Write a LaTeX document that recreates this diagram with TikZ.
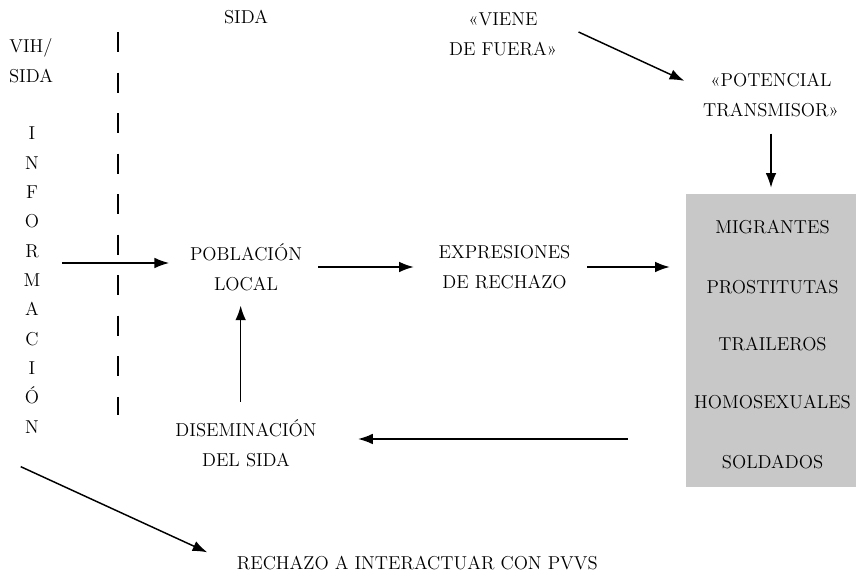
\documentclass[tikz,border=0pt]{standalone}
\usepackage{fontspec}
\usetikzlibrary{arrows.meta}
\definecolor{boxgray}{RGB}{200,200,200}
\begin{document}
\begin{tikzpicture}[>={Latex[length=11bp,width=8bp]},line join=bevel,
  lbl/.style={draw=none,align=center,inner sep=2bp,font=\fontsize{14bp}{22.5bp}\selectfont\addfontfeature{LetterSpace=5}},
  arr/.style={black,line width=1.1bp,->},
  ]
%%
\useasboundingbox (0bp,0bp) rectangle (642bp,432.75bp);
\node (grupos) at (578.25bp,177.4bp) [fill=boxgray,minimum width=127.5bp,minimum height=219.75bp,inner sep=0pt] {};
  \node (sida) at (184.5bp,420bp) [lbl] {SIDA};
  \node (viene) at (377.25bp,407.25bp) [lbl] {«VIENE\\DE FUERA»};
  \node (potencial) at (578.25bp,361.1bp) [lbl] {«POTENCIAL\\TRANSMISOR»};
  \node (vihsida) at (23.25bp,387bp) [lbl] {VIH/\\SIDA};
  \node (informacion) at (24bp,222.75bp) [lbl,font=\fontsize{14bp}{22bp}\selectfont] {I\\N\\F\\O\\R\\M\\A\\C\\I\\Ó\\N};
  \node (poblacion) at (184.5bp,232.5bp) [lbl] {POBLACIÓN\\LOCAL};
  \node (expresiones) at (378.4bp,232.5bp) [lbl] {EXPRESIONES\\DE RECHAZO};
  \node (diseminacion) at (184.5bp,100.5bp) [lbl] {DISEMINACIÓN\\DEL SIDA};
  \node (rechazo) at (313bp,10.5bp) [lbl] {RECHAZO A INTERACTUAR CON PVVS};
  \node (migrantes) at (579.4bp,262.5bp) [lbl] {MIGRANTES};
  \node (prostitutas) at (579.4bp,217.5bp) [lbl] {PROSTITUTAS};
  \node (traileros) at (579.4bp,174.75bp) [lbl] {TRAILEROS};
  \node (homosexuales) at (579.4bp,131.25bp) [lbl] {HOMOSEXUALES};
  \node (soldados) at (579.4bp,86.25bp) [lbl] {SOLDADOS};
  \draw [black,line width=1.5bp,dash pattern=on 15bp off 15.4bp] (88.5bp,408.75bp) -- (88.5bp,121.5bp);
  \draw [arr] ([shift={(14bp,1.5bp)}]viene.east) -- ([shift={(-12bp,11bp)}]potencial.west);
  \draw [arr,shorten <=10bp,shorten >=4.5bp] (potencial.south -| grupos) -- (grupos.north);
  \draw [arr,shorten <=14bp,shorten >=13.5bp] ([yshift=3bp]informacion.east |- poblacion.west) -- ([yshift=3bp]poblacion.west);
  \draw [arr,shorten <=10bp,shorten >=16.5bp] (poblacion) -- (expresiones);
  \draw [arr,shorten <=10.5bp,shorten >=12bp] (expresiones) -- (expresiones -| grupos.west);
  \draw [arr,shorten <=11bp,shorten >=9bp] ([xshift=-4bp]diseminacion.north -| poblacion) -- ([xshift=-4bp]poblacion.south);
  \draw [arr,shorten <=43.5bp,shorten >=29bp] ([yshift=3bp]diseminacion.east -| grupos.west) -- ([yshift=3bp]diseminacion.east);
  \draw [arr] ([yshift=-23bp]informacion.south west) -- ([shift={(-20bp,8bp)}]rechazo.west);
%
\end{tikzpicture}
\end{document}
